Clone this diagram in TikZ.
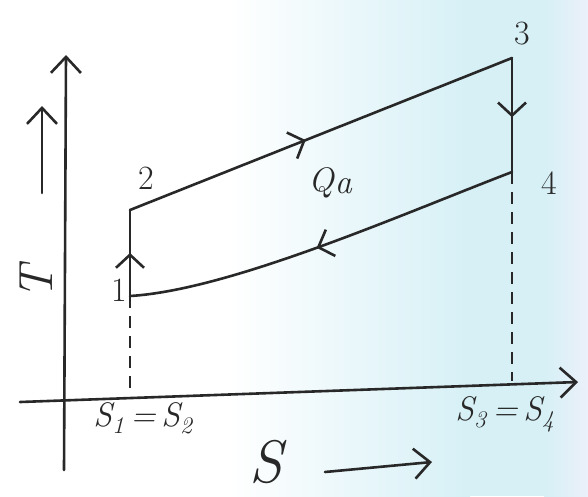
\documentclass[tikz,border=0pt]{standalone}
\usepackage{fontspec}
\usetikzlibrary{arrows.meta,decorations.markings}
\definecolor{ink}{RGB}{40,40,40}
\definecolor{bgc}{RGB}{214,240,246}
\definecolor{bgr}{RGB}{236,240,250}
\tikzset{
  pen/.style={draw=ink,line width=2.6pt,line cap=round,line join=round},
  dashline/.style={draw=ink,line width=2.6pt,dash pattern=on 12pt off 8pt},
  axisarrow/.style={-{Straight Barb[length=16pt,width=30pt,line width=2.6pt]}},
  midarrow/.style={postaction={decorate,decoration={markings,
    mark=at position #1 with {\arrow[ink,line width=2.6pt]{Straight Barb[length=13pt,width=28pt]}}}}},
  lbl/.style={text=ink,inner sep=0pt,font=\fontsize{34}{38}\selectfont},
  slbl/.style={text=ink,inner sep=0pt,font=\itshape\fontsize{34}{40}\selectfont}
}
\begin{document}
\begin{tikzpicture}[x=1pt,y=-1pt]
\useasboundingbox (0,0) rectangle (588,496);
% background tint
\fill[white] (0,0) rectangle (230,496);
\shade[left color=white,right color=bgc] (229,0) rectangle (470,496);
\fill[bgc] (469,0) rectangle (545,496);
\shade[left color=bgc,right color=bgr] (544,0) rectangle (588,496);
% axes
\coordinate (Tb) at (64,470);
\coordinate (Tt) at (66,55);
\coordinate (Sl) at (20,402);
\coordinate (Sr) at (578,382);
\draw[pen,axisarrow] (Tb) -- (Tt);
\draw[pen,axisarrow] (Sl) -- (Sr);
% state points
\coordinate (p1) at (130,296);
\coordinate (p2) at (130,210);
\coordinate (p3) at (512,58);
\coordinate (p4) at (512,172);
\coordinate (f1) at (130,394);
\coordinate (f4) at (512,381);
% cycle
\draw[pen,midarrow=0.5] (p1) -- (p2);
\draw[pen,midarrow=0.46] (p2) -- (p3);
\draw[pen,midarrow=0.52] (p3) -- (p4);
\draw[pen,midarrow=0.52] (p4) .. controls (400,215) and (230,290) .. (p1);
% dashed projections
\draw[dashline] (p1) -- (f1);
\draw[dashline] (p4) -- (f4);
% labels
\node[lbl] (l1) at (119,290) {1};
\node[lbl] (l2) at (146,178) {2};
\node[lbl] (l3) at (522,34) {3};
\node[lbl] (l4) at (549,183) {4};
\node[slbl] (lq) at (330,183) {Q\kern1pt\raisebox{-2pt}{a}};
\node[slbl] (ls12) at (143,418) {S\textsubscript{1}\,=\,S\textsubscript{2}};
\node[slbl] (ls34) at (505,414) {S\textsubscript{3}\,=\,S\textsubscript{4}};
\node[text=ink,inner sep=0pt,rotate=90,font=\itshape\fontsize{48}{52}\selectfont] (lT) at (36,283) {T};
\node[text=ink,inner sep=0pt,font=\itshape\fontsize{60}{64}\selectfont] (lS) at (266,462) {S};
% direction arrows beside the axis names
\coordinate (Ta) at (42,193);
\coordinate (Tz) at (42,106);
\coordinate (Sa) at (325,472);
\coordinate (Sz) at (432,462);
\draw[pen,axisarrow] (Ta) -- (Tz);
\draw[pen,axisarrow] (Sa) -- (Sz);
\end{tikzpicture}
\end{document}
